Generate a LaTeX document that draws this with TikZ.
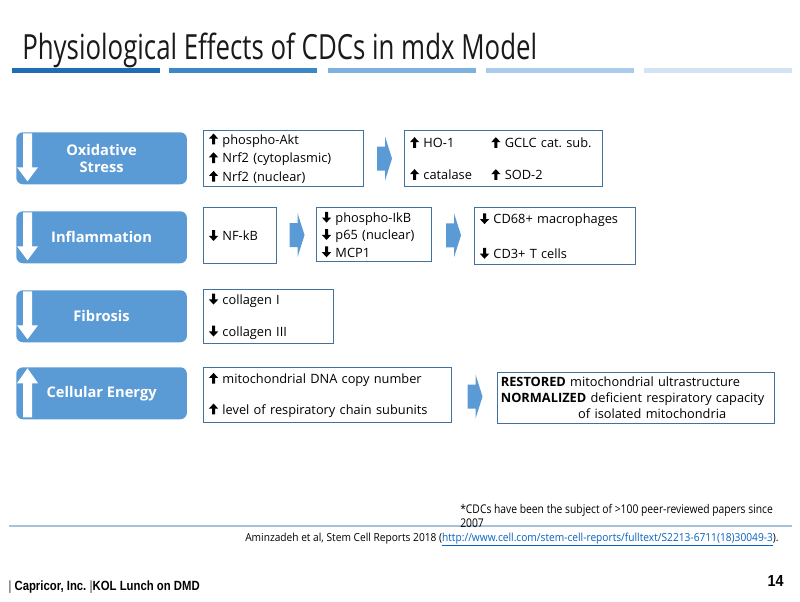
\documentclass[tikz,border=0pt]{standalone}
\usepackage{fontspec}
\setmainfont{Open Sans}
\newfontfamily\footfont{Liberation Sans}
\usetikzlibrary{calc}

\definecolor{blockblue}{HTML}{5B9BD5}
\definecolor{frameblue}{HTML}{41719C}
\definecolor{barone}{HTML}{1F6EB5}
\definecolor{bartwo}{HTML}{3D87C9}
\definecolor{barthree}{HTML}{7FB1DE}
\definecolor{barfour}{HTML}{AACBE9}
\definecolor{barfive}{HTML}{D2E3F4}
\definecolor{rulegray}{HTML}{A7C3DA}
\definecolor{linkblue}{HTML}{0563C1}
\definecolor{titleink}{HTML}{1A1A1A}

% heavy up / down arrows in front of the items
\newcommand{\up}{\tikz[baseline=0pt, x=1pt, y=1pt]\fill (2.4,-0.2) -- (4.6,-0.2) -- (4.6,4.1) -- (7,4.1) -- (3.5,7.9) -- (0,4.1) -- (2.4,4.1) -- cycle;\ }
\newcommand{\dn}{\tikz[baseline=0pt, x=1pt, y=1pt]\fill (2.4,7.9) -- (4.6,7.9) -- (4.6,3.6) -- (7,3.6) -- (3.5,-0.2) -- (0,3.6) -- (2.4,3.6) -- cycle;\ }

\frenchspacing
\begin{document}
\begin{tikzpicture}[x=0.75pt, y=-0.75pt,
    effect/.style={fill=blockblue, rounded corners=5pt, minimum width=128pt, minimum height=39pt,
        text=white, font=\fontsize{11}{13}\selectfont\bfseries, align=center, anchor=north west},
    databox/.style={draw=frameblue, line width=0.8pt, fill=white, anchor=north west, align=left,
        inner xsep=4pt, inner ysep=0pt, font=\fontsize{9.6}{14}\selectfont},
    chevron/.pic={\fill[blockblue] (-7,-12) -- (1,-12) -- (1,-22) -- (8,0) -- (1,22) -- (1,12) -- (-7,12) -- cycle;},
    downarr/.pic={\fill[white] (-4.5,-25) -- (4.5,-25) -- (4.5,9) -- (10.5,9) -- (0,23) -- (-10.5,9) -- (-4.5,9) -- cycle;},
    uparr/.pic={\fill[white] (-4.5,24) -- (4.5,24) -- (4.5,-10) -- (10.5,-10) -- (0,-25) -- (-10.5,-10) -- (-4.5,-10) -- cycle;}]
    \useasboundingbox[fill=white] (0,0) rectangle (800,601);

    % title and bars
    \node[anchor=base west, text=titleink, font=\fontsize{26}{30}\selectfont, inner sep=0pt] (title) at (22,59)
        {\scalebox{0.745}[1]{Physiological Effects of CDCs in mdx Model}};
    \fill[barone] (12,68) rectangle (160,73);
    \fill[bartwo] (169,68) rectangle (317,73);
    \fill[barthree] (328,68) rectangle (476,73);
    \fill[barfour] (486,68) rectangle (634,73);
    \fill[barfive] (644,68) rectangle (792,73);

    % effects
    \node[effect] (oxid) at (16,132) {Oxidative\\Stress};
    \node[effect] (infl) at (16,211) {Inflammation};
    \node[effect] (fibr) at (16,290) {Fibrosis};
    \node[effect] (cell) at (16,367) {Cellular Energy};
    \pic at ($(oxid.west)+(11.5,0)$) {downarr};
    \pic at ($(infl.west)+(11.5,0)$) {downarr};
    \pic at ($(fibr.west)+(11.5,0)$) {downarr};
    \pic at ($(cell.west)+(11.5,0)$) {uparr};

    % oxidative stress row
    \node[databox, text width=112pt, minimum height=42pt] (akt) at (203,130)
        {\up phospho-Akt\\ \up Nrf2 (cytoplasmic)\\ \up Nrf2 (nuclear)};
    \node[databox, text width=140.5pt, minimum height=42pt] (hox) at (404,130)
        {\makebox[61pt][l]{\up HO-1}\up GCLC cat. sub.\\[10pt]
         \makebox[61pt][l]{\up catalase}\up SOD-2};
    \pic at ($(akt.east)!0.5!(hox.west)$) {chevron};

    % inflammation row
    \node[databox, text width=46.75pt, minimum height=42pt] (nfkb) at (203,207) {\dn NF-kB};
    \node[databox, text width=78.25pt, minimum height=40.5pt, font=\fontsize{9.6}{13}\selectfont] (ikb) at (316,207)
        {\dn phospho-IkB\\ \dn p65 (nuclear)\\ \dn MCP1};
    \node[databox, text width=112.75pt, minimum height=42.75pt] (cd) at (474,207)
        {\dn CD68+ macrophages\\[12pt] \dn CD3+ T cells};
    \pic at ($(nfkb.east)!0.5!(ikb.west)$) {chevron};
    \pic at ($(ikb.east)!0.5!(cd.west)$) {chevron};

    % fibrosis row
    \node[databox, text width=89.5pt, minimum height=40.5pt] (coll) at (203,289)
        {\dn collagen I\\[10pt] \dn collagen III};

    % cellular energy row
    \node[databox, text width=178pt, minimum height=41.25pt] (mito) at (203,367)
        {\up mitochondrial DNA copy number\\[9pt] \up level of respiratory chain subunits};
    \node[databox, text width=202.75pt, minimum height=38.25pt, inner xsep=2.5pt, font=\fontsize{9.6}{12}\selectfont] (rest) at (497,372)
        {\textbf{RESTORED} mitochondrial ultrastructure\\
         \textbf{NORMALIZED} deficient respiratory capacity\\
         \hspace*{58pt}of isolated mitochondria};
    \pic at ($(mito.east)!0.5!(rest.west)$) {chevron};

    % notes
    \draw[rulegray, line width=0.9pt] (9,526) -- (792,526);
    \node[anchor=base west, align=left, inner sep=0pt, font=\fontsize{9}{10.5}\selectfont] (note) at (460,527)
        {\scalebox{0.86}[1]{*CDCs have been the subject of >100 peer-reviewed papers since}\\
         \scalebox{0.86}[1]{2007}};
    \node[anchor=base west, inner sep=0pt, font=\fontsize{8.3}{10}\selectfont] (ref) at (245,541)
        {\scalebox{0.92}[1]{Aminzadeh et al, Stem Cell Reports 2018 (\textcolor{linkblue}{\underline{http://www.cell.com/stem-cell-reports/fulltext/S2213-6711(18)30049-3}}).}};

    % footer
    \node[anchor=base west, inner sep=0pt, font=\footfont\fontsize{10}{12}\selectfont\bfseries] (foot) at (8,590)
        {\scalebox{0.85}[1]{\textcolor{gray}{|} Capricor, Inc. \textcolor{gray}{|}KOL Lunch on DMD}};
    \node[anchor=base east, inner sep=0pt, font=\footfont\fontsize{12}{14}\selectfont\bfseries] (page) at (784,586) {\scalebox{0.9}[1]{14}};
\end{tikzpicture}
\end{document}
